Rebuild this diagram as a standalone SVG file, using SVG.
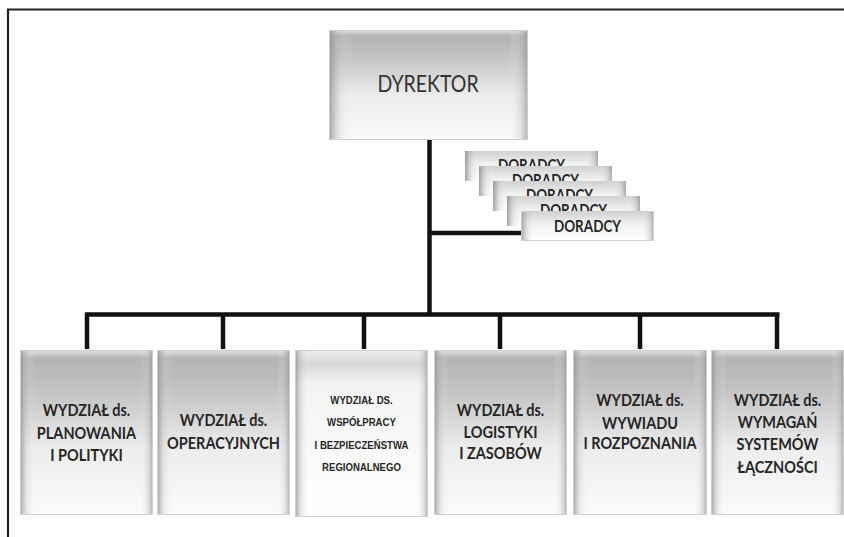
<svg xmlns="http://www.w3.org/2000/svg" width="844" height="537" viewBox="0 0 844 537">
  <style>
    .frame { fill: none; stroke: #222; stroke-width: 2.2; }
    .link { fill: none; stroke: #111; stroke-width: 4.5; stroke-linecap: butt; }
    .box { fill: url(#shade); }
    .edge { fill: url(#edges); }
    .rim { fill: none; stroke: #cfcfcf; stroke-width: 1; }
    .lbl { font-family: Lato, "Open Sans", "Liberation Sans", sans-serif; font-weight: 700; font-size: 14.5px; fill: #262626; text-anchor: middle; }
    .sm { font-family: "Liberation Sans", Arial, sans-serif; font-weight: 700; font-size: 9.6px; fill: #262626; text-anchor: middle; }
    .dir { font-family: Lato, "Open Sans", "Liberation Sans", sans-serif; font-weight: 400; font-size: 19.5px; fill: #333; text-anchor: middle; }
    .adv { font-family: Lato, "Open Sans", "Liberation Sans", sans-serif; font-weight: 700; font-size: 13.5px; fill: #262626; text-anchor: middle; }
  </style>
  <defs>
    <!-- vertical shading: grey band near the top fading to white -->
    <linearGradient id="shade" x1="0" y1="0" x2="0" y2="1">
      <stop offset="0" stop-color="#e2e2e2"/>
      <stop offset="0.05" stop-color="#b4b4b4"/>
      <stop offset="0.22" stop-color="#c0c0c0"/>
      <stop offset="0.6" stop-color="#ededed"/>
      <stop offset="1" stop-color="#fbfbfb"/>
    </linearGradient>
    <linearGradient id="shadeLight" x1="0" y1="0" x2="0" y2="1">
      <stop offset="0" stop-color="#f0f0f0"/>
      <stop offset="0.08" stop-color="#d6d6d6"/>
      <stop offset="0.2" stop-color="#f4f4f4"/>
      <stop offset="1" stop-color="#ffffff"/>
    </linearGradient>
    <linearGradient id="shadeTab" x1="0" y1="0" x2="0" y2="1">
      <stop offset="0" stop-color="#d0d0d0"/>
      <stop offset="0.45" stop-color="#f2f2f2"/>
      <stop offset="1" stop-color="#ffffff"/>
    </linearGradient>
    <!-- darker side bevels -->
    <linearGradient id="edges" x1="0" y1="0" x2="1" y2="0">
      <stop offset="0" stop-color="#8a8a8a" stop-opacity="0.8"/>
      <stop offset="0.05" stop-color="#bdbdbd" stop-opacity="0.3"/>
      <stop offset="0.12" stop-color="#ffffff" stop-opacity="0"/>
      <stop offset="0.9" stop-color="#ffffff" stop-opacity="0"/>
      <stop offset="0.97" stop-color="#b0b0b0" stop-opacity="0.4"/>
      <stop offset="1" stop-color="#8a8a8a" stop-opacity="0.7"/>
    </linearGradient>
    <!-- visible strips of the stacked adviser tabs -->
    <clipPath id="tab1"><rect x="465" y="151" width="133" height="15"/></clipPath>
    <clipPath id="tab2"><rect x="479" y="166" width="133" height="15"/></clipPath>
    <clipPath id="tab3"><rect x="493" y="181" width="133" height="15"/></clipPath>
    <clipPath id="tab4"><rect x="507" y="196" width="133" height="15"/></clipPath>
  </defs>

  <!-- outer frame (top and left rules) -->
  <path class="frame" d="M844 9.5 H8 V537"/>

  <!-- connectors -->
  <g id="connectors">
    <path class="link" d="M429.5 140 V316"/>
    <path class="link" d="M429.5 233 H521"/>
    <path class="link" d="M85 314.5 H779.5"/>
    <path class="link" d="M87 314 V349"/>
    <path class="link" d="M223 314 V349"/>
    <path class="link" d="M364 314 V349"/>
    <path class="link" d="M500 314 V349"/>
    <path class="link" d="M640 314 V349"/>
    <path class="link" d="M777 314 V349"/>
  </g>

  <!-- director -->
  <g id="dyrektor">
    <rect class="box" x="329" y="30" width="199" height="110"/>
    <rect class="edge" x="329" y="30" width="199" height="110"/>
    <rect class="rim" x="329.5" y="30.5" width="198" height="109"/>
    <text class="dir" transform="translate(428 92) scale(1 1.2)">DYREKTOR</text>
  </g>

  <!-- advisers, stacked -->
  <g id="doradcy-1">
    <rect x="465" y="151" width="133" height="30" fill="url(#shadeTab)"/>
    <rect class="edge" x="465" y="151" width="133" height="30"/>
    <g clip-path="url(#tab1)">
      <text class="adv" transform="translate(531.5 171) scale(1 1.3)">DORADCY</text>
    </g>
  </g>
  <g id="doradcy-2">
    <rect x="479" y="166" width="133" height="30" fill="url(#shadeTab)"/>
    <rect class="edge" x="479" y="166" width="133" height="30"/>
    <g clip-path="url(#tab2)">
      <text class="adv" transform="translate(545.5 186) scale(1 1.3)">DORADCY</text>
    </g>
  </g>
  <g id="doradcy-3">
    <rect x="493" y="181" width="133" height="30" fill="url(#shadeTab)"/>
    <rect class="edge" x="493" y="181" width="133" height="30"/>
    <g clip-path="url(#tab3)">
      <text class="adv" transform="translate(559.5 201) scale(1 1.3)">DORADCY</text>
    </g>
  </g>
  <g id="doradcy-4">
    <rect x="507" y="196" width="133" height="30" fill="url(#shadeTab)"/>
    <rect class="edge" x="507" y="196" width="133" height="30"/>
    <g clip-path="url(#tab4)">
      <text class="adv" transform="translate(573.5 216) scale(1 1.3)">DORADCY</text>
    </g>
  </g>
  <g id="doradcy-5">
    <rect x="521" y="211" width="133" height="30" fill="url(#shadeTab)"/>
    <rect class="edge" x="521" y="211" width="133" height="30"/>
    <rect class="rim" x="521.5" y="211.5" width="132" height="29"/>
    <text class="adv" transform="translate(587.5 232) scale(1 1.3)">DORADCY</text>
  </g>

  <!-- departments -->
  <g id="planowanie">
    <rect class="box" x="20" y="350" width="133" height="165"/>
    <rect class="edge" x="20" y="350" width="133" height="165"/>
    <rect class="rim" x="20.5" y="350.5" width="132" height="164"/>
    <text class="lbl" transform="translate(86.5 416) scale(1 1.2)">WYDZIAŁ ds.</text>
    <text class="lbl" transform="translate(86.5 439) scale(1 1.2)">PLANOWANIA</text>
    <text class="lbl" transform="translate(86.5 461) scale(1 1.2)">I POLITYKI</text>
  </g>
  <g id="operacje">
    <rect class="box" x="157" y="350" width="133" height="165"/>
    <rect class="edge" x="157" y="350" width="133" height="165"/>
    <rect class="rim" x="157.5" y="350.5" width="132" height="164"/>
    <text class="lbl" transform="translate(223.5 426) scale(1 1.2)">WYDZIAŁ ds.</text>
    <text class="lbl" transform="translate(223.5 449) scale(1 1.2)">OPERACYJNYCH</text>
  </g>
  <g id="wspolpraca">
    <rect x="295" y="350" width="133" height="167" fill="url(#shadeLight)"/>
    <rect class="edge" x="295" y="350" width="133" height="167"/>
    <rect class="rim" x="295.5" y="350.5" width="132" height="166"/>
    <text class="sm" transform="translate(361.5 404) scale(1 1.2)">WYDZIAŁ DS.</text>
    <text class="sm" transform="translate(361.5 426) scale(1 1.2)">WSPÓŁPRACY</text>
    <text class="sm" transform="translate(361.5 449) scale(1 1.2)">I BEZPIECZEŃSTWA</text>
    <text class="sm" transform="translate(361.5 471) scale(1 1.2)">REGIONALNEGO</text>
  </g>
  <g id="logistyka">
    <rect class="box" x="434" y="350" width="133" height="165"/>
    <rect class="edge" x="434" y="350" width="133" height="165"/>
    <rect class="rim" x="434.5" y="350.5" width="132" height="164"/>
    <text class="lbl" transform="translate(500.5 416) scale(1 1.2)">WYDZIAŁ ds.</text>
    <text class="lbl" transform="translate(500.5 438) scale(1 1.2)">LOGISTYKI</text>
    <text class="lbl" transform="translate(500.5 459) scale(1 1.2)">I ZASOBÓW</text>
  </g>
  <g id="wywiad">
    <rect class="box" x="573" y="350" width="134" height="165"/>
    <rect class="edge" x="573" y="350" width="134" height="165"/>
    <rect class="rim" x="573.5" y="350.5" width="133" height="164"/>
    <text class="lbl" transform="translate(640 406) scale(1 1.2)">WYDZIAŁ ds.</text>
    <text class="lbl" transform="translate(640 429) scale(1 1.2)">WYWIADU</text>
    <text class="lbl" transform="translate(640 449) scale(1 1.2)">I ROZPOZNANIA</text>
  </g>
  <g id="lacznosc">
    <rect class="box" x="711" y="350" width="133" height="165"/>
    <rect class="edge" x="711" y="350" width="133" height="165"/>
    <rect class="rim" x="711.5" y="350.5" width="132" height="164"/>
    <text class="lbl" transform="translate(777.5 406) scale(1 1.2)">WYDZIAŁ ds.</text>
    <text class="lbl" transform="translate(777.5 428) scale(1 1.2)">WYMAGAŃ</text>
    <text class="lbl" transform="translate(777.5 450) scale(1 1.2)">SYSTEMÓW</text>
    <text class="lbl" transform="translate(777.5 473) scale(1 1.2)">ŁĄCZNOŚCI</text>
  </g>
</svg>
